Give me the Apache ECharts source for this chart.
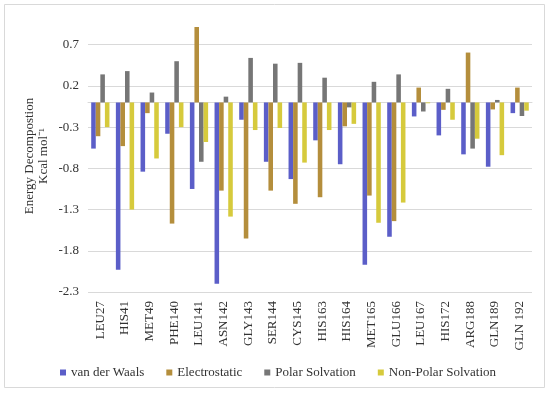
<!DOCTYPE html>
<html>
<head>
<meta charset="utf-8">
<script src="https://cdn.jsdelivr.net/npm/echarts@6/dist/echarts.min.js"></script>
<style>
html,body{margin:0;padding:0;background:#fff;}
#chart{width:550px;height:396px;}
</style>
</head>
<body>
<div id="chart"></div>
<script>
var categories = ['LEU27','HIS41','MET49','PHE140','LEU141','ASN142','GLY143','SER144','CYS145','HIS163','HIS164','MET165','GLU166','LEU167','HIS172','ARG188','GLN189','GLN 192'];
var vanDerWaals = [-0.56,-2.03,-0.84,-0.38,-1.05,-2.20,-0.21,-0.72,-0.93,-0.46,-0.75,-1.97,-1.63,-0.17,-0.40,-0.63,-0.78,-0.13];
var electrostatic = [-0.41,-0.53,-0.13,-1.47,0.915,-1.07,-1.65,-1.07,-1.23,-1.15,-0.29,-1.13,-1.44,0.18,-0.09,0.605,-0.085,0.18];
var polarSolvation = [0.34,0.38,0.12,0.50,-0.72,0.07,0.54,0.47,0.48,0.30,-0.06,0.25,0.34,-0.11,0.165,-0.56,0.03,-0.165];
var nonPolarSolvation = [-0.30,-1.30,-0.68,-0.30,-0.48,-1.385,-0.335,-0.31,-0.73,-0.335,-0.26,-1.46,-1.215,-0.01,-0.21,-0.44,-0.64,-0.10];
var seriesNames = ['van der Waals','Electrostatic','Polar Solvation','Non-Polar Solvation'];
var yMin = -2.3, yMax = 1.0, yStep = 0.5;

var colors = ['#5b5ec8','#b48e3c','#767676','#d6ca3c'];
var font = '"Liberation Serif","Times New Roman",serif';
var chart = echarts.init(document.getElementById('chart'), null, {renderer:'canvas'});
var dataSets = [vanDerWaals, electrostatic, polarSolvation, nonPolarSolvation];
chart.setOption({
  animation:false,
  color: colors,
  graphic:[{type:'rect', shape:{x:4.5,y:4.5,width:540,height:383}, style:{fill:'none',stroke:'#d9d9d9',lineWidth:1}, silent:true}],
  grid:{left:88,right:18,top:20,bottom:104,containLabel:false},
  legend:{
    data: seriesNames, left:55, top:361, itemWidth:6, itemHeight:6, itemGap:22,
    icon:'rect', textStyle:{fontFamily:font,fontSize:13,color:'#333'}
  },
  xAxis:{
    type:'category', data:categories,
    axisLine:{show:true,lineStyle:{color:'#d9d9d9'}},
    axisTick:{show:false},
    axisLabel:{rotate:90,interval:0,fontFamily:font,fontSize:13,color:'#333',margin:9},
    splitLine:{show:false}
  },
  yAxis:{
    type:'value', min:yMin, max:yMax, interval:yStep,
    name:'Energy Decompostion\nKcal mol\u207B\u00B9',
    nameLocation:'middle', nameRotate:90, nameGap:37, nameMoveOverlap:false,
    nameTextStyle:{fontFamily:font,fontSize:13,color:'#333',lineHeight:14},
    axisLine:{show:false}, axisTick:{show:false},
    axisLabel:{fontFamily:font,fontSize:13,color:'#333',margin:9,showMaxLabel:false,
      formatter:function(v){ return (Math.abs(v-yMax)<1e-9)?'':v.toFixed(1); }},
    splitLine:{show:true,showMaxLine:false,lineStyle:{color:'#d9d9d9'}}
  },
  series: seriesNames.map(function(n,i){
    return {name:n,type:'bar',data:dataSets[i],barGap:'0%',barCategoryGap:'26%'};
  })
});
</script>
</body>
</html>
